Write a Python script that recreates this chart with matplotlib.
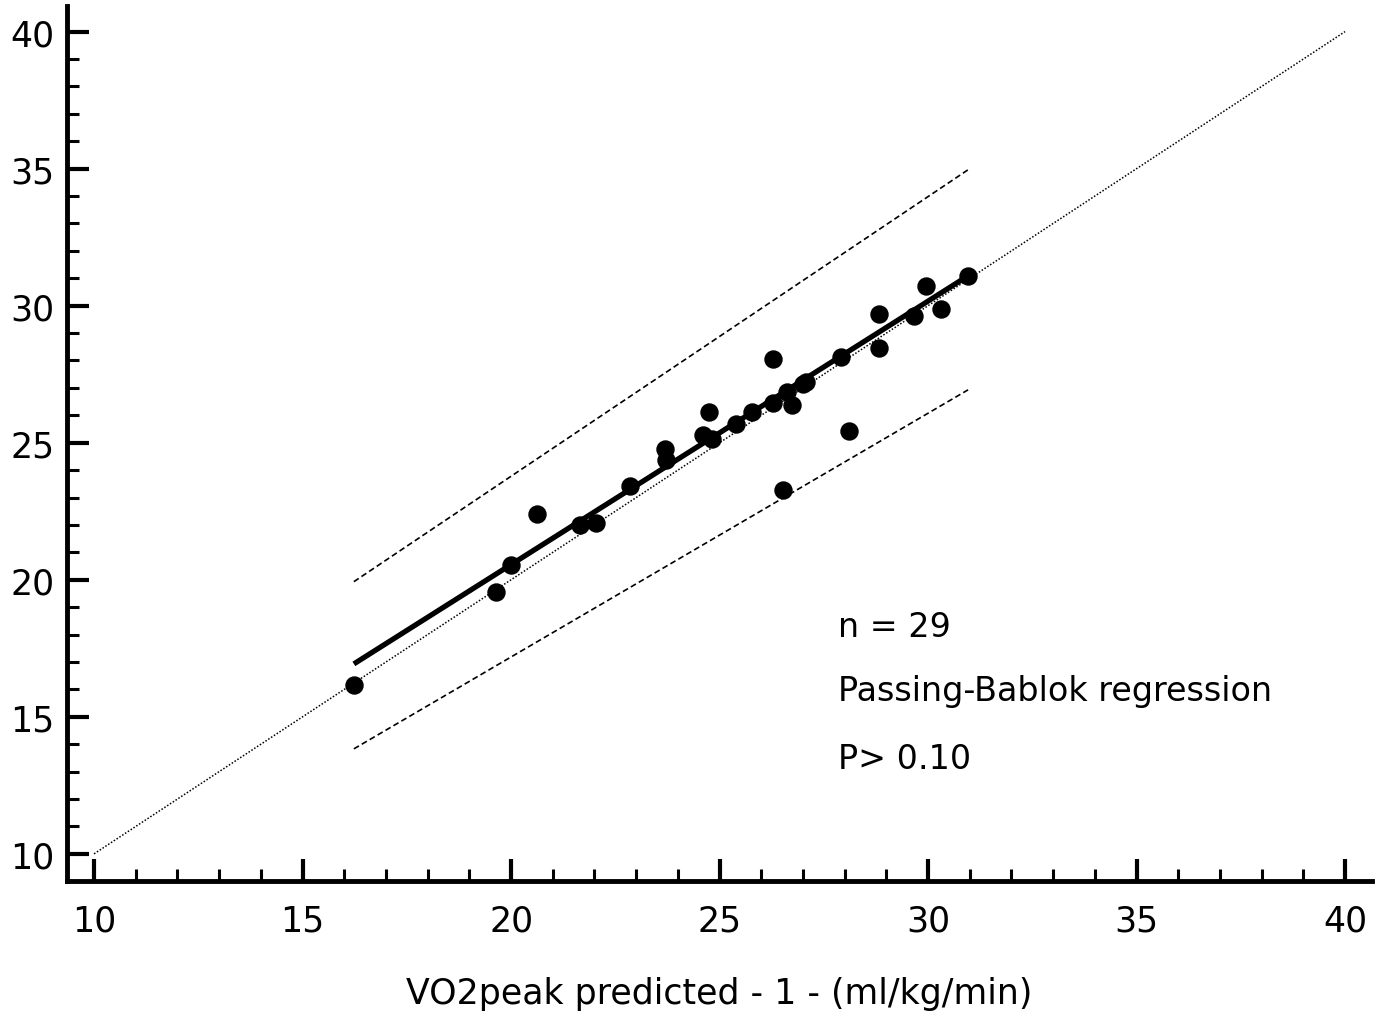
import numpy as np
import matplotlib

matplotlib.use("Agg", force=True)
import matplotlib.pyplot as plt
from matplotlib.ticker import MultipleLocator

# measured pairs (method 1 predicted vs method 2)
x_vals = [16.23, 19.64, 20.00, 20.62, 21.65, 22.04, 22.85, 23.69, 23.72, 24.60,
          24.75, 24.82, 25.40, 25.78, 26.28, 26.28, 26.52, 26.62, 26.74, 27.00,
          27.07, 27.91, 28.11, 28.82, 28.82, 29.66, 29.95, 30.31, 30.96]
y_vals = [16.17, 19.56, 20.55, 22.41, 22.00, 22.08, 23.43, 24.78, 24.38, 25.29,
          26.13, 25.15, 25.69, 26.13, 26.46, 28.07, 23.28, 26.86, 26.39, 27.15,
          27.23, 28.14, 25.44, 29.71, 28.47, 29.64, 30.73, 29.89, 31.09]

# Passing-Bablok fit and its confidence band (end points)
fit_x = [16.23, 30.96]
fit_y = [16.93, 31.09]
upper_y = [19.93, 34.96]
lower_y = [13.83, 26.93]
identity = [10, 40]

notes = ["n = 29", "Passing-Bablok regression", "P> 0.10"]
note_y = [18.28, 15.95, 13.47]

plt.rcParams["font.family"] = ["DejaVu Sans"]

fig = plt.figure(figsize=(13.87, 10.12), dpi=100)
ax = fig.add_axes([0.0483, 0.1285, 0.941, 0.865])

ax.plot(identity, identity, color="black", lw=1.1, ls=(0, (1, 1.2)))
ax.plot(fit_x, upper_y, color="black", lw=1.2, ls=(0, (3.5, 2)))
ax.plot(fit_x, lower_y, color="black", lw=1.2, ls=(0, (3.5, 2)))
ax.plot(fit_x, fit_y, color="black", lw=3.8, solid_capstyle="butt")
ax.scatter(x_vals, y_vals, s=150, color="black", zorder=3)

for txt, yy in zip(notes, note_y):
    ax.text(27.84, yy, txt, fontsize=24, va="center", ha="left")

ax.set_xlim(9.35, 40.65)
ax.set_ylim(9.01, 40.95)
ax.xaxis.set_major_locator(MultipleLocator(5))
ax.xaxis.set_minor_locator(MultipleLocator(1))
ax.yaxis.set_major_locator(MultipleLocator(5))
ax.yaxis.set_minor_locator(MultipleLocator(1))

for side in ["top", "right"]:
    ax.spines[side].set_visible(False)
for side in ["left", "bottom"]:
    ax.spines[side].set_linewidth(3.5)

ax.tick_params(which="major", direction="in", length=16, width=3, labelsize=25)
ax.tick_params(which="minor", direction="in", length=8.5, width=2.2)
ax.tick_params(axis="x", which="major", pad=16)
ax.tick_params(axis="y", which="major", pad=9)

ax.set_xlabel("VO2peak predicted - 1 - (ml/kg/min)", fontsize=25, labelpad=28)

fig.savefig("out.png", dpi=100)
